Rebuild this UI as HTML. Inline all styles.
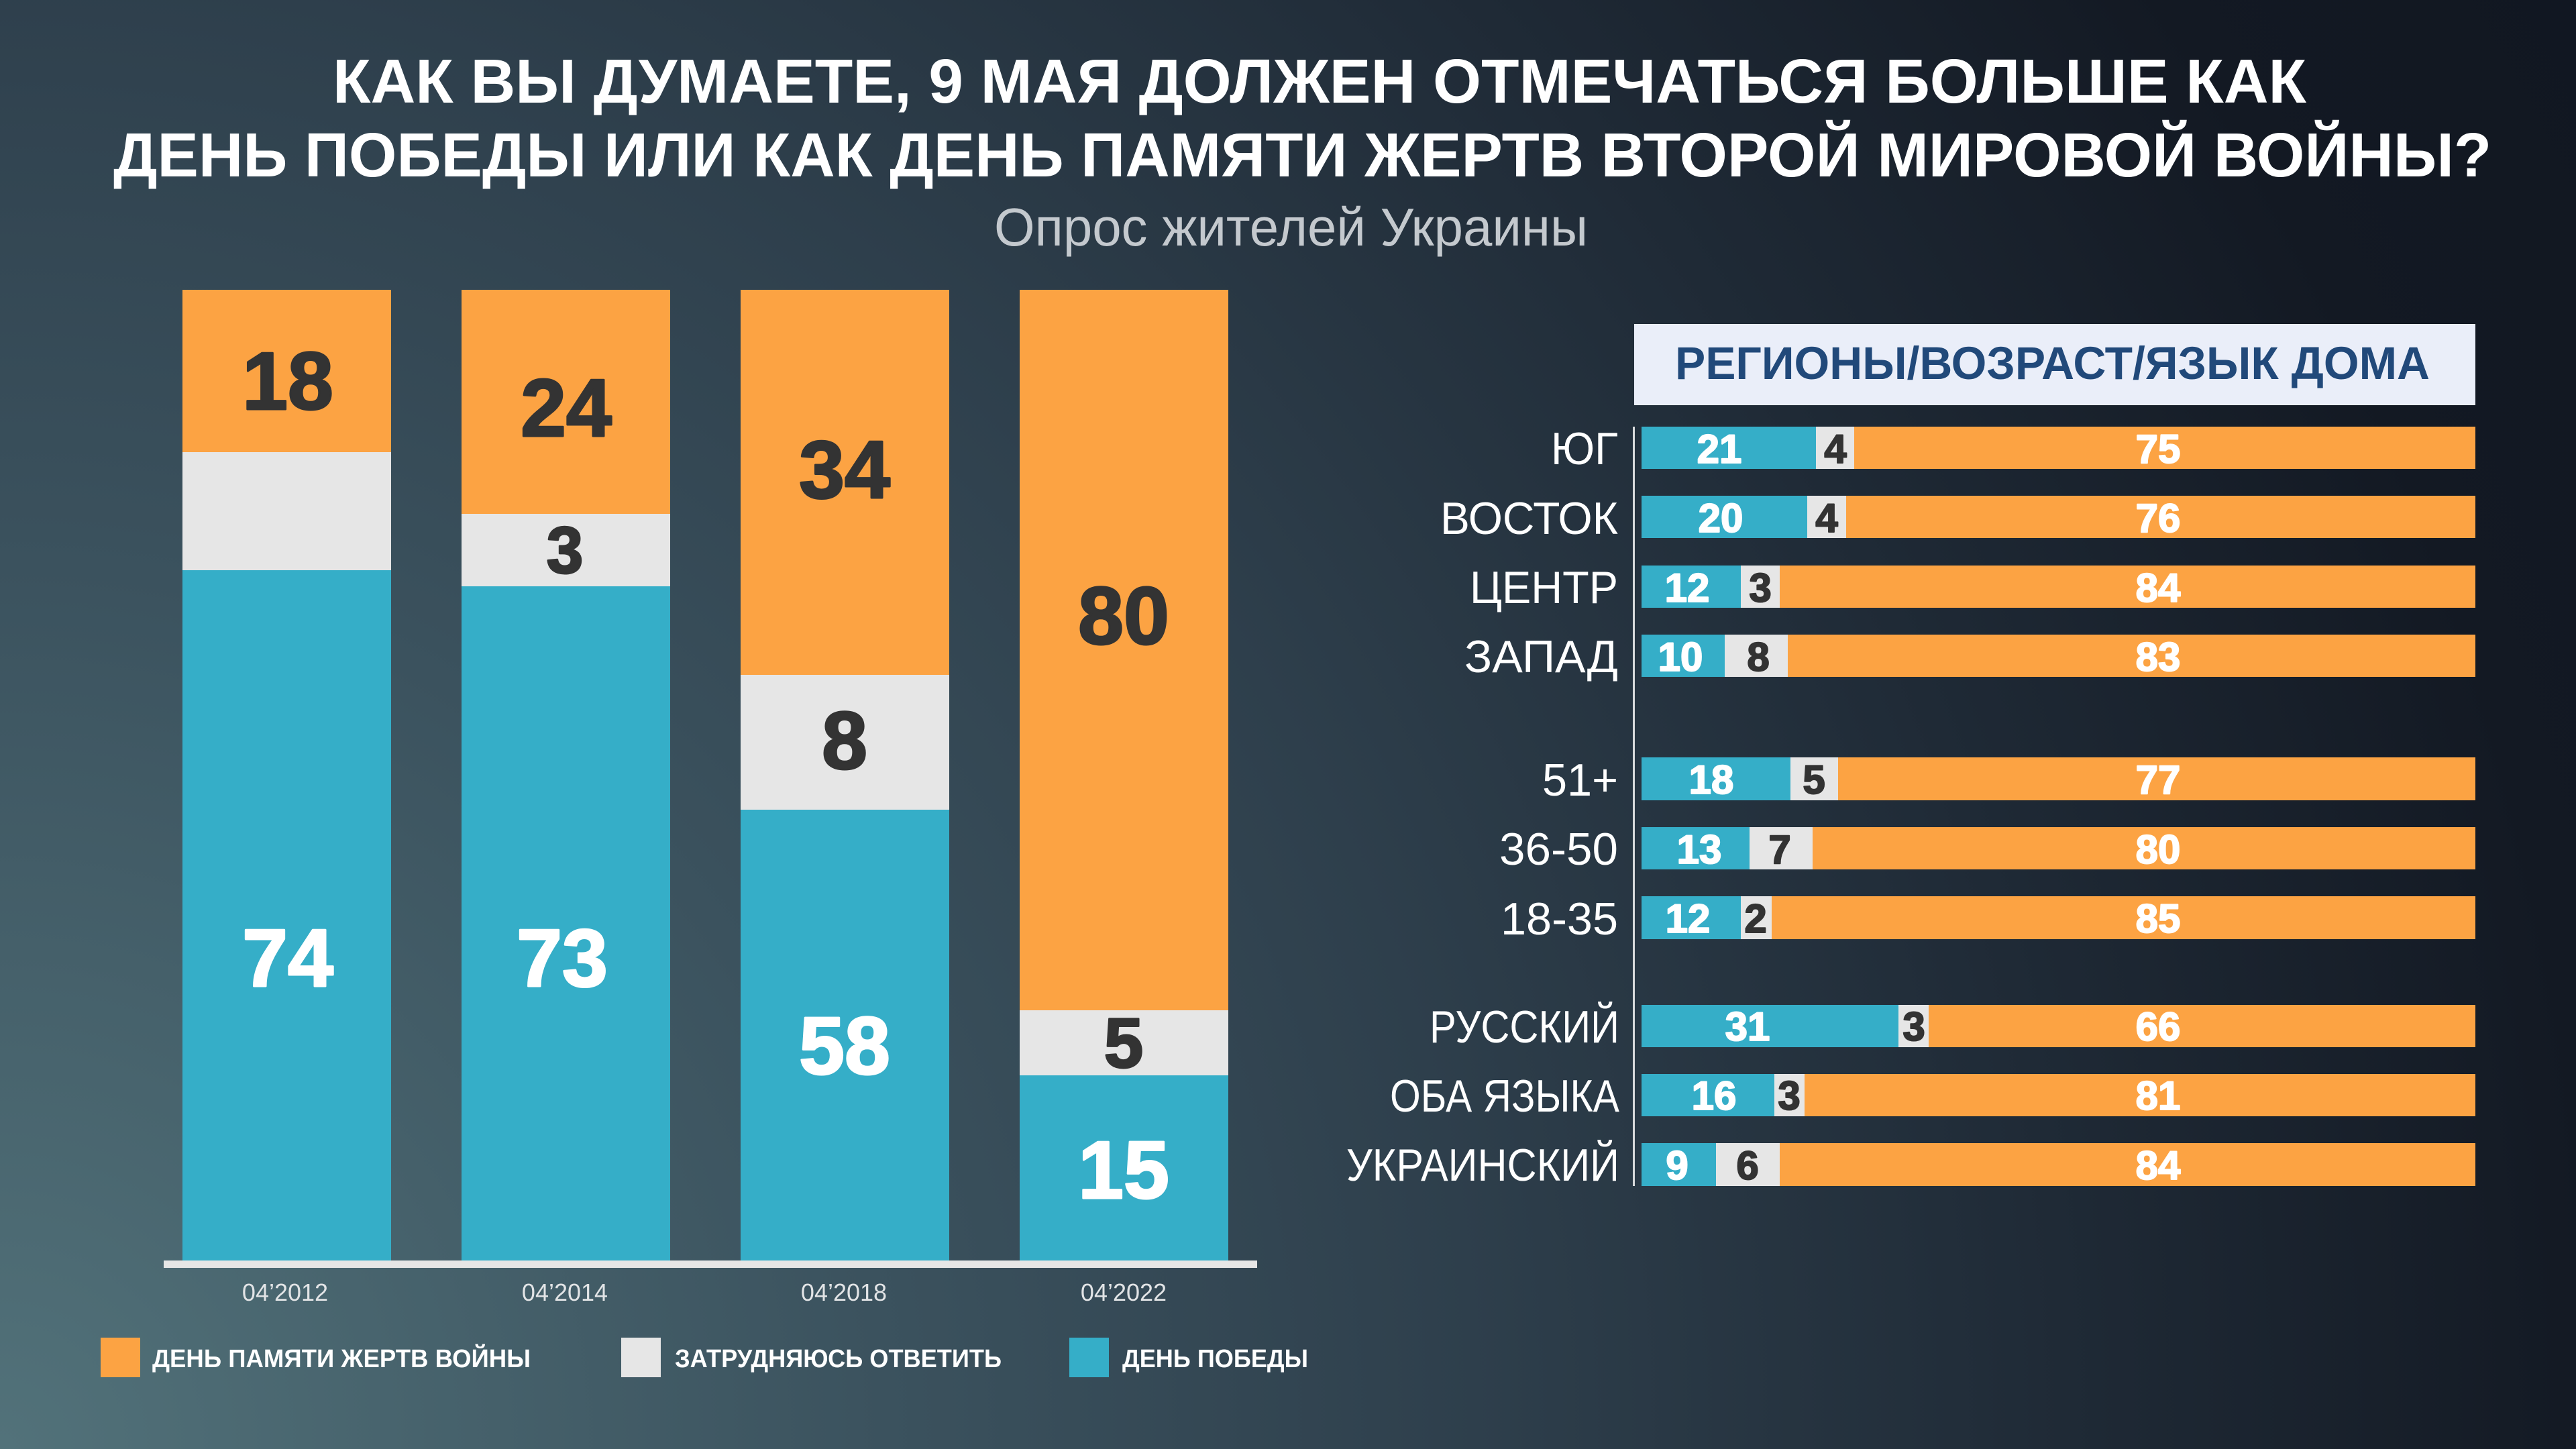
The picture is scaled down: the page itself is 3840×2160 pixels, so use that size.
<!DOCTYPE html>
<html><head><meta charset="utf-8"><style>
html,body{margin:0;padding:0;width:3840px;height:2160px;overflow:hidden;background:#1c2530}
svg{display:block}
text{font-family:"Liberation Sans","DejaVu Sans",sans-serif}
</style></head><body>
<svg width="3840" height="2160" viewBox="0 0 3840 2160" xmlns="http://www.w3.org/2000/svg">
<defs>
<radialGradient id="bg" cx="0" cy="2160" r="4400" gradientUnits="userSpaceOnUse">
<stop offset="0" stop-color="#52727a"/>
<stop offset="0.3" stop-color="#3b525e"/>
<stop offset="0.5" stop-color="#2e3f4c"/>
<stop offset="0.7" stop-color="#1f2a36"/>
<stop offset="0.88" stop-color="#131923"/>
<stop offset="1" stop-color="#111722"/>
</radialGradient>
</defs>
<rect x="0" y="0" width="3840" height="2160" fill="url(#bg)"/>

<!-- Title -->
<g font-weight="bold" font-size="93" fill="#ffffff">
<text x="496" y="153" textLength="2942" lengthAdjust="spacingAndGlyphs">КАК ВЫ ДУМАЕТЕ, 9 МАЯ ДОЛЖЕН ОТМЕЧАТЬСЯ БОЛЬШЕ КАК</text>
<text x="169" y="263" textLength="3545" lengthAdjust="spacingAndGlyphs">ДЕНЬ ПОБЕДЫ ИЛИ КАК ДЕНЬ ПАМЯТИ ЖЕРТВ ВТОРОЙ МИРОВОЙ ВОЙНЫ?</text>
</g>
<text x="1482" y="366" font-size="80" fill="#c4c9ce" textLength="885" lengthAdjust="spacingAndGlyphs">Опрос жителей Украины</text>

<!-- Left chart bars -->
<g>
<rect x="272" y="432" width="311" height="242" fill="#fca343"/>
<rect x="272" y="674" width="311" height="176" fill="#e6e6e6"/>
<rect x="272" y="850" width="311" height="1029" fill="#35aec8"/>
<rect x="688" y="432" width="311" height="334" fill="#fca343"/>
<rect x="688" y="766" width="311" height="108" fill="#e6e6e6"/>
<rect x="688" y="874" width="311" height="1005" fill="#35aec8"/>
<rect x="1104" y="432" width="311" height="574" fill="#fca343"/>
<rect x="1104" y="1006" width="311" height="201" fill="#e6e6e6"/>
<rect x="1104" y="1207" width="311" height="672" fill="#35aec8"/>
<rect x="1520" y="432" width="311" height="1074" fill="#fca343"/>
<rect x="1520" y="1506" width="311" height="97" fill="#e6e6e6"/>
<rect x="1520" y="1603" width="311" height="276" fill="#35aec8"/>
</g>
<rect x="244" y="1879" width="1630" height="11" fill="#e6e6e6"/>

<g font-weight="bold" text-anchor="middle" stroke-width="3" stroke-linejoin="round">
<text x="429" y="610" font-size="122" fill="#333333" stroke="#333333">18</text>
<text x="429" y="1470" font-size="122" fill="#ffffff" stroke="#ffffff">74</text>
<text x="844" y="650" font-size="122" fill="#333333" stroke="#333333">24</text>
<text x="842" y="854" font-size="98" fill="#333333" stroke="#333333">3</text>
<text x="838" y="1470" font-size="122" fill="#ffffff" stroke="#ffffff">73</text>
<text x="1259" y="742" font-size="122" fill="#333333" stroke="#333333">34</text>
<text x="1259" y="1146" font-size="122" fill="#333333" stroke="#333333">8</text>
<text x="1259" y="1601" font-size="122" fill="#ffffff" stroke="#ffffff">58</text>
<text x="1675" y="960" font-size="122" fill="#333333" stroke="#333333">80</text>
<text x="1675" y="1591" font-size="105" fill="#333333" stroke="#333333">5</text>
<text x="1675" y="1786" font-size="122" fill="#ffffff" stroke="#ffffff">15</text>
</g>

<g font-size="36" fill="#e2e4e6" text-anchor="middle">
<text x="425" y="1939">04’2012</text>
<text x="842" y="1939">04’2014</text>
<text x="1258" y="1939">04’2018</text>
<text x="1675" y="1939">04’2022</text>
</g>

<!-- Legend -->
<rect x="150" y="1994" width="59" height="59" fill="#fca343"/>
<rect x="926" y="1994" width="59" height="59" fill="#e6e6e6"/>
<rect x="1594" y="1994" width="59" height="59" fill="#35aec8"/>
<g font-size="38" font-weight="bold" fill="#ffffff">
<text x="227" y="2038" textLength="564" lengthAdjust="spacingAndGlyphs">ДЕНЬ ПАМЯТИ ЖЕРТВ ВОЙНЫ</text>
<text x="1006" y="2038" textLength="487" lengthAdjust="spacingAndGlyphs">ЗАТРУДНЯЮСЬ ОТВЕТИТЬ</text>
<text x="1673" y="2038" textLength="277" lengthAdjust="spacingAndGlyphs">ДЕНЬ ПОБЕДЫ</text>
</g>

<!-- Right chart header -->
<rect x="2436" y="483" width="1254" height="121" fill="#eaeef9"/>
<text x="2497" y="565" font-size="69" font-weight="bold" fill="#21497a" textLength="1125" lengthAdjust="spacingAndGlyphs">РЕГИОНЫ/ВОЗРАСТ/ЯЗЫК ДОМА</text>

<!-- axis line -->
<rect x="2434" y="636" width="3" height="1132" fill="#d8dadc"/>

<!-- Right chart rows -->
<g>
<rect x="2447" y="636" width="1243" height="63" fill="#fca343"/>
<rect x="2447" y="636" width="260" height="63" fill="#35aec8"/>
<rect x="2707" y="636" width="57" height="63" fill="#e6e6e6"/>
<rect x="2447" y="739" width="1243" height="63" fill="#fca343"/>
<rect x="2447" y="739" width="247" height="63" fill="#35aec8"/>
<rect x="2694" y="739" width="58" height="63" fill="#e6e6e6"/>
<rect x="2447" y="843" width="1243" height="63" fill="#fca343"/>
<rect x="2447" y="843" width="148" height="63" fill="#35aec8"/>
<rect x="2595" y="843" width="58" height="63" fill="#e6e6e6"/>
<rect x="2447" y="946" width="1243" height="63" fill="#fca343"/>
<rect x="2447" y="946" width="124" height="63" fill="#35aec8"/>
<rect x="2571" y="946" width="94" height="63" fill="#e6e6e6"/>
<rect x="2447" y="1129" width="1243" height="64" fill="#fca343"/>
<rect x="2447" y="1129" width="222" height="64" fill="#35aec8"/>
<rect x="2669" y="1129" width="71" height="64" fill="#e6e6e6"/>
<rect x="2447" y="1233" width="1243" height="63" fill="#fca343"/>
<rect x="2447" y="1233" width="161" height="63" fill="#35aec8"/>
<rect x="2608" y="1233" width="94" height="63" fill="#e6e6e6"/>
<rect x="2447" y="1336" width="1243" height="64" fill="#fca343"/>
<rect x="2447" y="1336" width="148" height="64" fill="#35aec8"/>
<rect x="2595" y="1336" width="46" height="64" fill="#e6e6e6"/>
<rect x="2447" y="1498" width="1243" height="63" fill="#fca343"/>
<rect x="2447" y="1498" width="383" height="63" fill="#35aec8"/>
<rect x="2830" y="1498" width="45" height="63" fill="#e6e6e6"/>
<rect x="2447" y="1601" width="1243" height="63" fill="#fca343"/>
<rect x="2447" y="1601" width="198" height="63" fill="#35aec8"/>
<rect x="2645" y="1601" width="45" height="63" fill="#e6e6e6"/>
<rect x="2447" y="1704" width="1243" height="64" fill="#fca343"/>
<rect x="2447" y="1704" width="111" height="64" fill="#35aec8"/>
<rect x="2558" y="1704" width="95" height="64" fill="#e6e6e6"/>
</g>

<!-- Row labels -->
<g font-size="68" fill="#ffffff" text-anchor="end">
<text x="2412" y="692" textLength="100" lengthAdjust="spacingAndGlyphs">ЮГ</text>
<text x="2412" y="796" textLength="265" lengthAdjust="spacingAndGlyphs">ВОСТОК</text>
<text x="2412" y="899" textLength="221" lengthAdjust="spacingAndGlyphs">ЦЕНТР</text>
<text x="2412" y="1002" textLength="229" lengthAdjust="spacingAndGlyphs">ЗАПАД</text>
<text x="2412" y="1186" textLength="113" lengthAdjust="spacingAndGlyphs">51+</text>
<text x="2412" y="1289" textLength="177" lengthAdjust="spacingAndGlyphs">36-50</text>
<text x="2412" y="1393" textLength="175" lengthAdjust="spacingAndGlyphs">18-35</text>
<text x="2414" y="1554" textLength="283" lengthAdjust="spacingAndGlyphs">РУССКИЙ</text>
<text x="2414" y="1657" textLength="342" lengthAdjust="spacingAndGlyphs">ОБА ЯЗЫКА</text>
<text x="2414" y="1760" textLength="407" lengthAdjust="spacingAndGlyphs">УКРАИНСКИЙ</text>
</g>

<!-- Right chart numbers -->
<g font-size="60" font-weight="bold" text-anchor="middle" stroke-width="2" stroke-linejoin="round">
<g fill="#ffffff" stroke="#ffffff">
<text x="2563" y="690">21</text>
<text x="2565" y="793">20</text>
<text x="2515" y="897">12</text>
<text x="2505" y="1000">10</text>
<text x="2551" y="1183">18</text>
<text x="2533" y="1287">13</text>
<text x="2516" y="1390">12</text>
<text x="2605" y="1551">31</text>
<text x="2555" y="1654">16</text>
<text x="2500" y="1758">9</text>
<text x="3217" y="690">75</text>
<text x="3217" y="793">76</text>
<text x="3217" y="897">84</text>
<text x="3217" y="1000">83</text>
<text x="3217" y="1183">77</text>
<text x="3217" y="1287">80</text>
<text x="3217" y="1390">85</text>
<text x="3217" y="1551">66</text>
<text x="3217" y="1654">81</text>
<text x="3217" y="1758">84</text>
</g>
<g fill="#333333" stroke="#333333">
<text x="2736" y="690">4</text>
<text x="2723" y="793">4</text>
<text x="2624" y="897">3</text>
<text x="2621" y="1000">8</text>
<text x="2704" y="1183">5</text>
<text x="2653" y="1287">7</text>
<text x="2617" y="1390">2</text>
<text x="2853" y="1551">3</text>
<text x="2667" y="1654">3</text>
<text x="2605" y="1758">6</text>
</g>
</g>
</svg>
</body></html>
